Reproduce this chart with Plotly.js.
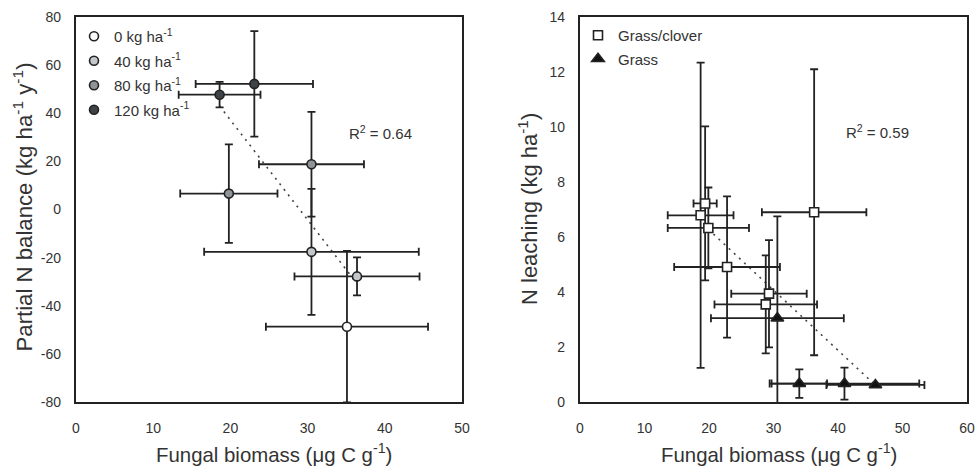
<!DOCTYPE html>
<html><head><meta charset="utf-8">
<script src="https://cdn.plot.ly/plotly-3.0.1.min.js"></script>
<style>html,body{margin:0;padding:0;background:#fff}#chart{width:977px;height:468px}</style>
</head><body><div id="chart"></div>
<script>
// ---- Left panel: Partial N balance vs fungal biomass ----
const n0_x = [35.1], n0_y = [-48.7], n0_ex = [10.5], n0_ey = [31.5];
const n40_x = [30.5, 36.4], n40_y = [-17.6, -27.8], n40_ex = [13.9, 8.1], n40_ey = [26.2, 7.9];
const n80_x = [19.8, 30.5], n80_y = [6.6, 18.8], n80_ex = [6.3, 6.8], n80_ey = [20.5, 21.8];
const n120_x = [18.6, 23.1], n120_y = [47.7, 52.2], n120_ex = [5.3, 7.6], n120_ey = [5.3, 21.9];
const trendL_x = [18.6, 36.4], trendL_y = [43.0, -30.8];
const legendL = ["0 kg ha<sup>-1</sup>", "40 kg ha<sup>-1</sup>", "80 kg ha<sup>-1</sup>", "120 kg ha<sup>-1</sup>"];
const yTickValsL = [-80, -60, -40, -20, 0, 20, 40, 60, 80];
const yTickTextL = ["-80", "-60", "-40", "-20", "0", "20", "40", "60", "80"];

// ---- Right panel: N leaching vs fungal biomass ----
const gc_x = [19.4, 18.7, 19.9, 22.8, 29.3, 28.8, 36.3];
const gc_y = [7.22, 6.79, 6.33, 4.91, 3.94, 3.55, 6.90];
const gc_ex = [1.8, 5.1, 6.3, 8.2, 5.85, 7.95, 8.1];
const gc_ey = [2.8, 5.55, 1.47, 2.57, 1.95, 1.78, 5.2];
const g_x = [30.6, 34.0, 41.0, 45.8];
const g_y = [3.05, 0.67, 0.67, 0.62];
const g_ex = [10.3, 4.3, 11.6, 7.6];
const g_ey = [3.7, 0.52, 0.58, 0];
const trendR_x = [19.9, 45.8], trendR_y = [6.28, 0.61];
const legendR = ["Grass/clover", "Grass"];

const FONT = "Arial, 'Liberation Sans', sans-serif";
const ERR = "#222";
function pt(name, xs, ys, ex, ey, fill, sym, size, xa, ya, leg, grp) {
  return {
    type: "scatter", mode: "markers", name: name, x: xs, y: ys,
    xaxis: xa, yaxis: ya, legend: leg, legendgroup: grp,
    marker: {symbol: sym, size: size, color: fill, line: {color: "#222", width: 1.6}},
    error_x: {type: "data", array: ex, visible: true, color: ERR, thickness: 1.8, width: 4},
    error_y: {type: "data", array: ey, visible: true, color: ERR, thickness: 1.8, width: 4}
  };
}
const traces = [
  {type: "scatter", mode: "lines", x: trendL_x, y: trendL_y, xaxis: "x", yaxis: "y", showlegend: false,
   line: {color: "#444", width: 1.6, dash: "2px,5px"}, hoverinfo: "skip"},
  {type: "scatter", mode: "lines", x: trendR_x, y: trendR_y, xaxis: "x2", yaxis: "y2", showlegend: false,
   line: {color: "#444", width: 1.6, dash: "2px,5px"}, hoverinfo: "skip"},
  pt(legendL[0], n0_x, n0_y, n0_ex, n0_ey, "#ffffff", "circle", 9, "x", "y", "legend", "a"),
  pt(legendL[1], n40_x, n40_y, n40_ex, n40_ey, "#c3c7ca", "circle", 9, "x", "y", "legend", "b"),
  pt(legendL[2], n80_x, n80_y, n80_ex, n80_ey, "#8f9498", "circle", 9, "x", "y", "legend", "c"),
  pt(legendL[3], n120_x, n120_y, n120_ex, n120_ey, "#3d4346", "circle", 9, "x", "y", "legend", "d"),
  pt(legendR[0], gc_x, gc_y, gc_ex, gc_ey, "#ffffff", "square", 9, "x2", "y2", "legend2", "e"),
  pt(legendR[1], g_x, g_y, g_ex, g_ey, "#111111", "triangle-up", 11, "x2", "y2", "legend2", "f")
];

const axisCommon = {
  showline: true, mirror: true, linecolor: "#222", linewidth: 2.2,
  showgrid: false, zeroline: false, ticks: "", fixedrange: true,
  tickfont: {family: FONT, size: 14, color: "#333"}
};
const W = 977;
const layout = {
  width: 977, height: 468,
  margin: {l: 0, r: 0, t: 17, b: 66},
  paper_bgcolor: "#fff", plot_bgcolor: "#fff",
  font: {family: FONT, color: "#333"},
  showlegend: true,
  xaxis: Object.assign({}, axisCommon, {domain: [76 / W, 462 / W], range: [0, 50], dtick: 10, tick0: 0, ticklabelstandoff: 12, anchor: "y"}),
  yaxis: Object.assign({}, axisCommon, {domain: [0, 1], range: [-80, 80], tickmode: "array", tickvals: yTickValsL, ticktext: yTickTextL, ticklabelstandoff: 10, anchor: "x"}),
  xaxis2: Object.assign({}, axisCommon, {domain: [580 / W, 967 / W], range: [0, 60], dtick: 10, tick0: 0, ticklabelstandoff: 12, anchor: "y2"}),
  yaxis2: Object.assign({}, axisCommon, {domain: [0, 1], range: [0, 14], dtick: 2, tick0: 0, ticklabelstandoff: 10, anchor: "x2"}),
  legend: {x: 74 / W, xanchor: "left", y: (402 - 20) / 385, yanchor: "top", xref: "paper", yref: "paper",
    bgcolor: "rgba(0,0,0,0)", font: {family: FONT, size: 15, color: "#333"}, tracegroupgap: 2, itemclick: false},
  legend2: {x: 578 / W, xanchor: "left", y: (402 - 19) / 385, yanchor: "top", xref: "paper", yref: "paper",
    bgcolor: "rgba(0,0,0,0)", font: {family: FONT, size: 15, color: "#333"}, tracegroupgap: 1, itemclick: false},
  annotations: [
    {text: "R<sup>2</sup> = 0.64", x: 35.1, y: 31.8, xref: "x", yref: "y", xanchor: "left", yanchor: "middle", showarrow: false,
     font: {family: FONT, size: 15, color: "#333"}},
    {text: "R<sup>2</sup> = 0.59", x: 41.0, y: 9.82, xref: "x2", yref: "y2", xanchor: "left", yanchor: "middle", showarrow: false,
     font: {family: FONT, size: 15, color: "#333"}},
    {text: "Fungal biomass (μg C g<sup>-1</sup>)", x: 274 / W, y: (402 - 453) / 385, xref: "paper", yref: "paper",
     xanchor: "center", yanchor: "middle", showarrow: false, font: {family: FONT, size: 20.4, color: "#333"}},
    {text: "Fungal biomass (μg C g<sup>-1</sup>)", x: 779 / W, y: (402 - 453) / 385, xref: "paper", yref: "paper",
     xanchor: "center", yanchor: "middle", showarrow: false, font: {family: FONT, size: 20.4, color: "#333"}},
    {text: "Partial N balance (kg ha<sup>-1</sup> y<sup>-1</sup>)", x: 22 / W, y: (402 - 207.5) / 385, xref: "paper", yref: "paper",
     xanchor: "center", yanchor: "middle", textangle: -90, showarrow: false, font: {family: FONT, size: 22.2, color: "#333"}},
    {text: "N leaching (kg ha<sup>-1</sup>)", x: 528 / W, y: (402 - 209) / 385, xref: "paper", yref: "paper",
     xanchor: "center", yanchor: "middle", textangle: -90, showarrow: false, font: {family: FONT, size: 22, color: "#333"}}
  ]
};
Plotly.newPlot("chart", traces, layout, {displayModeBar: false, staticPlot: true});
</script></body></html>
